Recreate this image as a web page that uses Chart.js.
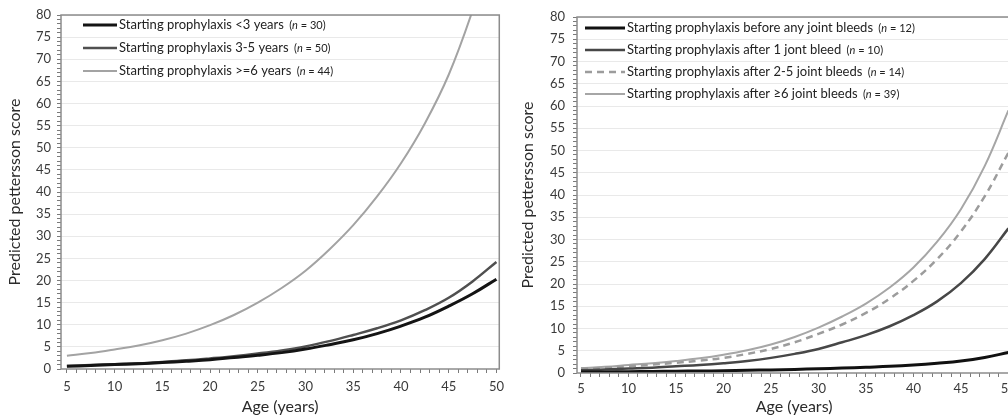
<!DOCTYPE html>
<html>
<head>
<meta charset="utf-8">
<script src="https://cdn.jsdelivr.net/npm/chart.js@4"></script>
<style>
  html, body { margin: 0; padding: 0; background: #fff; overflow: hidden; width: 1008px; height: 416px; }
  canvas { position: absolute; top: 0; }
  #chartL { left: 0; }
  #chartR { left: 510px; }
</style>
</head>
<body>
<canvas id="chartL" width="510" height="416"></canvas>
<canvas id="chartR" width="510" height="416"></canvas>
<script>
// Predicted Pettersson score by age - two panels

// Shared x values (age in years)
const ages = [5, 7.5, 10, 12.5, 15, 17.5, 20, 22.5, 25, 27.5, 30, 32.5, 35, 37.5, 40, 42.5, 45, 47.5, 50];

// Left panel: age at start of prophylaxis
const leftLabels = ['Starting prophylaxis <3 years', 'Starting prophylaxis 3-5 years', 'Starting prophylaxis >=6 years'];
const leftN = [30, 50, 44];
const under3 = [0.6, 0.8, 1.0, 1.2, 1.45, 1.75, 2.1, 2.6, 3.1, 3.7, 4.5, 5.5, 6.6, 8.0, 9.7, 11.7, 14.2, 17.0, 20.3];
const from3to5 = [0.7, 0.9, 1.1, 1.3, 1.6, 1.95, 2.4, 2.9, 3.5, 4.2, 5.1, 6.3, 7.7, 9.2, 11.0, 13.3, 16.1, 19.8, 24.2];
const over6 = [3.0, 3.6, 4.4, 5.3, 6.5, 8.0, 9.9, 12.2, 15.0, 18.3, 22.2, 27.0, 32.5, 39.0, 46.5, 55.5, 66.5, 81.0, 98.0];

// Right panel: joint bleeds before prophylaxis
const rightLabels = [
    'Starting prophylaxis before any joint bleeds',
    'Starting prophylaxis after 1 jont bleed',
    'Starting prophylaxis after 2-5 joint bleeds',
    'Starting prophylaxis after \u22656 joint bleeds'
];
const rightN = [12, 10, 14, 39];
const noBleeds = [0.2, 0.25, 0.3, 0.35, 0.4, 0.45, 0.5, 0.6, 0.7, 0.8, 0.95, 1.1, 1.3, 1.5, 1.8, 2.2, 2.7, 3.5, 4.6];
const oneBleed = [0.6, 0.8, 1.0, 1.2, 1.5, 1.8, 2.2, 2.7, 3.4, 4.3, 5.4, 6.9, 8.5, 10.5, 13.0, 16.1, 20.2, 25.6, 32.5];
const bleeds2to5 = [0.9, 1.2, 1.5, 1.9, 2.3, 2.8, 3.4, 4.3, 5.4, 6.9, 8.8, 10.9, 13.5, 16.7, 20.7, 25.6, 31.8, 39.7, 49.5];
const bleeds6plus = [1.1, 1.4, 1.8, 2.2, 2.7, 3.3, 4.1, 5.1, 6.4, 8.1, 10.2, 12.7, 15.6, 19.2, 23.7, 29.5, 36.8, 46.5, 59.0];

const xTickLabels = [5, 10, 15, 20, 25, 30, 35, 40, 45, 50];

function points(values) {
    return values.map((v, i) => ({ x: ages[i], y: v }));
}

// Grey frame round the plot area
const frame = {
    id: 'frame',
    afterDatasetsDraw(chart) {
        const a = chart.chartArea;
        const ctx = chart.ctx;
        ctx.save();
        ctx.strokeStyle = '#8c8c8c';
        ctx.lineWidth = 1.5;
        ctx.strokeRect(a.left, a.top, a.right - a.left, a.bottom - a.top);
        ctx.restore();
    }
};

// Legend drawn inside the plot, Excel style with "(n = ..)" in small type
const insideLegend = {
    id: 'insideLegend',
    afterDraw(chart, args, opts) {
        const ctx = chart.ctx;
        ctx.save();
        chart.data.datasets.forEach((ds, i) => {
            const y = opts.top + i * opts.rowGap;
            ctx.beginPath();
            ctx.strokeStyle = ds.borderColor;
            ctx.lineWidth = ds.borderWidth;
            ctx.setLineDash(ds.borderDash || []);
            ctx.moveTo(opts.left, y);
            ctx.lineTo(opts.left + opts.lineLen, y);
            ctx.stroke();
            ctx.setLineDash([]);

            ctx.fillStyle = '#222';
            ctx.textBaseline = 'middle';
            let x = opts.left + opts.lineLen + 2;
            ctx.font = '13px Lato';
            const main = ds.label + ' ';
            ctx.fillText(main, x, y);
            x += ctx.measureText(main).width + 2;
            ctx.font = '11px Lato';
            ctx.fillText('(', x, y + 0.5);
            x += ctx.measureText('(').width;
            ctx.font = 'italic 11px Lato';
            ctx.fillText('n', x, y + 0.5);
            x += ctx.measureText('n').width;
            ctx.font = '11px Lato';
            ctx.fillText(' = ' + ds.n + ')', x, y + 0.5);
        });
        ctx.restore();
    }
};

function makeChart(id, datasets, geo) {
    new Chart(document.getElementById(id), {
        type: 'line',
        data: { datasets: datasets },
        options: {
            responsive: false,
            animation: false,
            events: [],
            layout: { padding: { left: geo.padLeft, right: geo.padRight, top: geo.padTop, bottom: 0 } },
            elements: {
                point: { radius: 0 },
                line: { tension: 0.4, fill: false }
            },
            plugins: {
                legend: { display: false },
                tooltip: { enabled: false },
                insideLegend: geo.legend
            },
            scales: {
                x: {
                    type: 'linear',
                    min: geo.xMin,
                    max: geo.xMax,
                    afterBuildTicks: axis => {
                        const t = [];
                        for (let v = 5; v <= 50; v++) t.push({ value: v });
                        axis.ticks = t;
                    },
                    afterFit: axis => { axis.height = geo.xAxisHeight; },
                    border: { display: false },
                    grid: { drawOnChartArea: false, drawTicks: true, tickLength: 4, tickColor: '#7a7a7a', lineWidth: 1 },
                    ticks: {
                        autoSkip: false,
                        maxRotation: 0,
                        padding: geo.xTickPad,
                        color: '#3a3a3a',
                        font: { family: 'Lato', size: 13 },
                        callback: v => xTickLabels.includes(v) ? String(v) : ''
                    },
                    title: {
                        display: true,
                        text: 'Age (years)',
                        color: '#2b2b2b',
                        font: { family: 'Lato', size: 16 },
                        padding: { top: 0, bottom: geo.xTitlePad }
                    }
                },
                y: {
                    min: 0,
                    max: 80,
                    afterBuildTicks: axis => {
                        const t = [];
                        for (let v = 0; v <= 80; v++) t.push({ value: v });
                        axis.ticks = t;
                    },
                    afterFit: axis => { axis.width = geo.yAxisWidth; },
                    border: { display: false },
                    grid: {
                        drawTicks: true,
                        tickLength: 4,
                        tickColor: '#7a7a7a',
                        color: c => (c.tick && c.tick.value % 5 === 0 && c.tick.value > 0) ? '#e9e9e9' : 'rgba(0,0,0,0)',
                        lineWidth: 1
                    },
                    ticks: {
                        autoSkip: false,
                        padding: geo.yTickPad,
                        color: '#3a3a3a',
                        font: { family: 'Lato', size: 13 },
                        callback: v => v % 5 === 0 ? String(v) : ''
                    },
                    title: {
                        display: true,
                        text: 'Predicted pettersson score',
                        color: '#2b2b2b',
                        font: { family: 'Lato', size: 16 },
                        padding: 0
                    }
                }
            }
        },
        plugins: [frame, insideLegend]
    });
}

const leftSets = [
    { label: leftLabels[0], n: leftN[0], data: points(under3), borderColor: '#141414', borderWidth: 3 },
    { label: leftLabels[1], n: leftN[1], data: points(from3to5), borderColor: '#505050', borderWidth: 2.5 },
    { label: leftLabels[2], n: leftN[2], data: points(over6), borderColor: '#a3a3a3', borderWidth: 2 }
];

const rightSets = [
    { label: rightLabels[0], n: rightN[0], data: points(noBleeds), borderColor: '#111111', borderWidth: 3 },
    { label: rightLabels[1], n: rightN[1], data: points(oneBleed), borderColor: '#474747', borderWidth: 2.5 },
    { label: rightLabels[2], n: rightN[2], data: points(bleeds2to5), borderColor: '#9c9c9c', borderWidth: 2.5, borderDash: [7, 5] },
    { label: rightLabels[3], n: rightN[3], data: points(bleeds6plus), borderColor: '#a6a6a6', borderWidth: 2 }
];

makeChart('chartL', leftSets, {
    padLeft: 5, padRight: 6, padTop: 15,
    yAxisWidth: 56, xAxisHeight: 47,
    xMin: 4.38, xMax: 50.3,
    xTickPad: 6, yTickPad: 6, xTitlePad: 0,
    legend: { left: 83, top: 25, rowGap: 23, lineLen: 34 }
});

makeChart('chartR', rightSets, {
    padLeft: 8, padRight: 7.4, padTop: 17,
    yAxisWidth: 59, xAxisHeight: 43,
    xMin: 4.58, xMax: 50.3,
    xTickPad: 4, yTickPad: 8, xTitlePad: 0,
    legend: { left: 75, top: 28, rowGap: 22, lineLen: 40 }
});
</script>
</body>
</html>
